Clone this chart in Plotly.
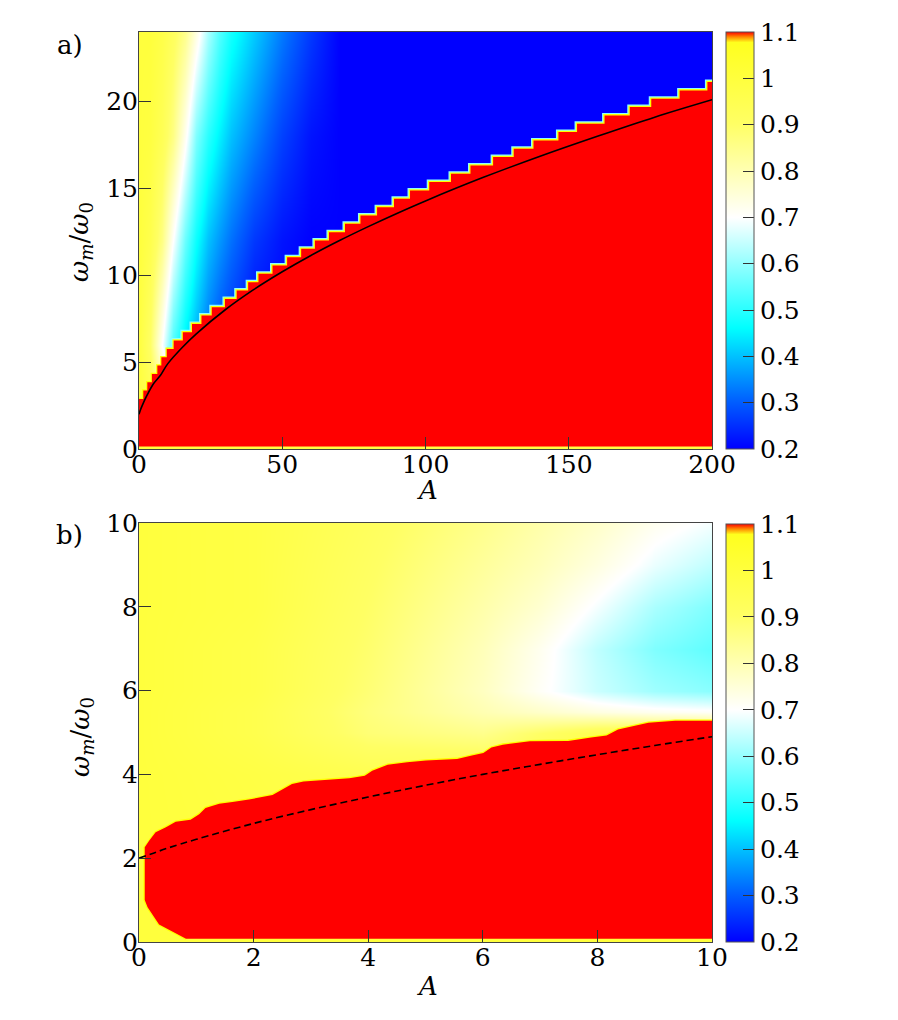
"""Two-panel stability map: omega_m/omega_0 versus A, with threshold curves."""

import plotly.graph_objects as go

# ---- panel a) background field (coarse samples read off the picture) ----
a_A = [0, 4, 8, 12, 16, 20, 24, 28, 32, 40, 50, 60, 70, 200]
a_w = [0, 6, 12, 18, 24]
a_z = [
    [1.0, 1.0, 1.0, 1.0, 1.0, 1.0, 1.0, 1.0, 1.0, 1.0, 1.0, 1.0, 1.0, 1.0],
    [0.99, 0.9, 0.70, 0.53, 0.44, 0.38, 0.32, 0.28, 0.25, 0.2, 0.2, 0.2, 0.2, 0.2],
    [1.0, 0.96, 0.86, 0.70, 0.56, 0.47, 0.40, 0.36, 0.32, 0.26, 0.22, 0.2, 0.2, 0.2],
    [1.0, 0.99, 0.94, 0.86, 0.72, 0.58, 0.50, 0.45, 0.40, 0.34, 0.27, 0.22, 0.2, 0.2],
    [1.0, 1.0, 0.97, 0.92, 0.85, 0.74, 0.62, 0.54, 0.48, 0.41, 0.33, 0.26, 0.2, 0.2],
]

# red (unstable) region top edge, staircase
a_step_A = [0, 1.5, 2.9, 4.5, 6.4, 7.8, 9.7, 12.1, 15.3, 18.5, 21.8, 25.4, 30.0,
            34.1, 38.1, 41.7, 46.6, 51.7, 56.6, 61.4, 66.3, 71.9, 77.3, 83.1,
            89.0, 94.6, 101.3, 108.9, 115.7, 123.6, 130.8, 137.7, 146.4, 152.9,
            162.5, 171.3, 178.8, 188.7, 198.4, 200]
a_step_w = [2.88, 3.36, 3.84, 4.32, 4.80, 5.28, 5.76, 6.24, 6.72, 7.20, 7.68,
            8.16, 8.64, 9.12, 9.60, 10.08, 10.56, 11.04, 11.52, 12.00, 12.48,
            12.96, 13.44, 13.92, 14.40, 14.88, 15.36, 15.84, 16.32, 16.80, 17.28,
            17.76, 18.24, 18.72, 19.20, 19.68, 20.16, 20.64, 21.12, 21.12]
a_floor = 0.15

# threshold curve a)
a_line_A = [0, 0.5, 1, 2, 3, 5, 7.5, 10, 15, 20, 30, 40, 50, 60, 70, 80, 90,
            100, 120, 140, 160, 180, 200]
a_line_w = [2.0, 2.24, 2.45, 2.83, 3.16, 3.74, 4.24, 4.90, 5.83, 6.63, 8.0, 9.17,
            10.2, 11.14, 12.0, 12.8, 13.56, 14.28, 15.62, 16.85, 18.0, 19.1, 20.1]

# ---- panel b) background field ----
b_A = [0, 2, 4, 6, 7, 8, 9, 10]
b_w = [0, 4, 5, 5.5, 6, 7, 8, 9, 10]
b_z = [
    [1.0, 1.0, 1.0, 1.0, 1.0, 1.0, 1.0, 1.0],
    [1.0, 0.98, 0.95, 0.96, 0.97, 0.98, 0.98, 0.98],
    [1.0, 0.96, 0.88, 0.85, 0.9, 0.95, 0.97, 0.97],
    [1.0, 0.96, 0.87, 0.8, 0.77, 0.74, 0.72, 0.71],
    [1.0, 0.97, 0.88, 0.78, 0.71, 0.65, 0.61, 0.59],
    [1.0, 0.97, 0.89, 0.79, 0.72, 0.64, 0.58, 0.55],
    [1.0, 0.98, 0.9, 0.81, 0.76, 0.69, 0.62, 0.58],
    [1.0, 0.98, 0.91, 0.83, 0.79, 0.74, 0.68, 0.64],
    [1.0, 0.98, 0.92, 0.85, 0.81, 0.77, 0.72, 0.69],
]

# red region outline b) (left + top edge)
b_edge_A = [0.82, 0.35, 0.15, 0.1, 0.1, 0.18, 0.29, 0.47, 0.64, 0.9, 1.05, 1.16,
            1.4, 1.63, 1.92, 2.33, 2.53, 2.67, 2.87, 3.2, 3.67, 3.94, 4.07, 4.34,
            4.68, 5.01, 5.55, 5.81, 6.01, 6.15, 6.35, 6.82, 7.49, 7.89, 8.16,
            8.36, 8.63, 8.89, 9.36, 10]
b_edge_w = [0.08, 0.42, 0.83, 1.0, 2.26, 2.42, 2.62, 2.74, 2.87, 2.92, 3.05, 3.2,
            3.3, 3.34, 3.4, 3.51, 3.67, 3.77, 3.83, 3.87, 3.91, 3.97, 4.09, 4.23,
            4.29, 4.33, 4.37, 4.45, 4.51, 4.64, 4.71, 4.79, 4.8, 4.88, 4.93,
            5.07, 5.16, 5.23, 5.28, 5.28]
b_floor = 0.08

# threshold curve b)
b_line_A = [0, 0.25, 0.5, 1, 2, 3, 4, 5, 6, 7, 8, 9, 10]
b_line_w = [2.0, 2.12, 2.24, 2.45, 2.83, 3.16, 3.46, 3.74, 4.0, 4.24, 4.47, 4.69, 4.90]

cb_vals = [0.2, 0.3, 0.4, 0.5, 0.6, 0.7, 0.8, 0.9, 1.0, 1.1]
cb_text = ["0.2", "0.3", "0.4", "0.5", "0.6", "0.7", "0.8", "0.9", "1", "1.1"]

RED = "rgb(255,0,0)"
FONT = "DejaVu Serif"
colorscale = [
    [0.0, "rgb(0,0,255)"],
    [0.12, "rgb(0,100,255)"],
    [0.29, "rgb(0,255,255)"],
    [0.555, "rgb(255,255,255)"],
    [0.78, "rgb(255,255,100)"],
    [0.975, "rgb(255,255,30)"],
    [0.988, "rgb(255,140,0)"],
    [1.0, RED],
]

# figure size; the page adds an 8px body margin, so pixel positions below
# are in figure coordinates (screen - 8)
W, H = 898, 1020
FS = 25
X0, X1 = 131, 704          # plot left/right
A_TOP, A_BOT = 24, 441     # panel a top/bottom
B_TOP, B_BOT = 515, 934    # panel b top/bottom
CB_X = 718


def colorbar(top, bottom):
    return dict(
        x=CB_X / W, xanchor="left", y=1 - (top + bottom) / 2 / H, yanchor="middle",
        lenmode="pixels", len=bottom - top, thickness=28, thicknessmode="pixels",
        outlinewidth=1, outlinecolor="#555", xpad=0, ypad=0,
        ticks="inside", ticklen=11, tickcolor="#333",
        tickvals=cb_vals, ticktext=cb_text,
        tickfont=dict(family=FONT, size=FS, color="black"),
    )


fig = go.Figure()

panels = [
    dict(xa="x", ya="y", A=a_A, w=a_w, z=a_z, cb=(A_TOP, A_BOT),
         poly_x=[200, 0] + a_step_A, poly_y=[a_floor, a_floor] + a_step_w,
         shape="hv", edge_x=a_step_A, edge_y=a_step_w,
         line_x=a_line_A, line_y=a_line_w, dash="solid"),
    dict(xa="x2", ya="y2", A=b_A, w=b_w, z=b_z, cb=(B_TOP + 1, B_BOT),
         poly_x=[10] + b_edge_A, poly_y=[b_floor] + b_edge_w,
         shape="linear", edge_x=b_edge_A, edge_y=b_edge_w,
         line_x=b_line_A, line_y=b_line_w, dash="7px,4px"),
]

for i, p in enumerate(panels):
    fig.add_trace(go.Heatmap(
        x=p["A"], y=p["w"], z=p["z"], zsmooth="best", colorscale=colorscale,
        zmin=0.2, zmax=1.1, colorbar=colorbar(*p["cb"]),
        xaxis=p["xa"], yaxis=p["ya"], hoverinfo="skip",
    ))
    if i == 0:
        # thin cyan fringe where the red edge meets the blue area
        fx = [x for x in p["edge_x"] if x >= 9.7]
        fy = [y for x, y in zip(p["edge_x"], p["edge_y"]) if x >= 9.7]
        fig.add_trace(go.Scatter(
            x=fx, y=fy, mode="lines", line=dict(color="rgb(140,255,255)", width=5, shape="hv"),
            xaxis=p["xa"], yaxis=p["ya"], showlegend=False, hoverinfo="skip",
        ))
    fig.add_trace(go.Scatter(
        x=p["edge_x"], y=p["edge_y"], mode="lines",
        line=dict(color="rgb(255,255,0)", width=2.6, shape=p["shape"]),
        xaxis=p["xa"], yaxis=p["ya"], showlegend=False, hoverinfo="skip",
    ))
    fig.add_trace(go.Scatter(
        x=p["poly_x"], y=p["poly_y"], mode="lines", fill="toself", fillcolor=RED,
        line=dict(width=0, color=RED, shape=p["shape"]),
        xaxis=p["xa"], yaxis=p["ya"], showlegend=False, hoverinfo="skip",
    ))
    fig.add_trace(go.Scatter(
        x=p["line_x"], y=p["line_y"], mode="lines",
        line=dict(color="black", width=1.6, shape="spline", dash=p["dash"]),
        xaxis=p["xa"], yaxis=p["ya"], showlegend=False, hoverinfo="skip",
    ))

tick_font = dict(family=FONT, size=FS, color="black")
axis_common = dict(
    showline=True, mirror=True, linecolor="#444", linewidth=1,
    ticks="inside", ticklen=12, tickcolor="#333", showgrid=False,
    zeroline=False, tickfont=tick_font, automargin=False,
)
xdom = [X0 / W, X1 / W]
title_font = dict(family=FONT, size=26, color="black")
ytitle = "<i>ω<sub>m</sub></i>/<i>ω</i><sub>0</sub>"


def label(text, x, y, angle=0):
    return dict(text=text, x=x / W, y=1 - y / H, xref="paper", yref="paper",
                xanchor="center", yanchor="middle", textangle=angle,
                showarrow=False, font=title_font)


fig.update_layout(
    width=W, height=H,
    margin=dict(l=0, r=0, t=0, b=0, autoexpand=False),
    paper_bgcolor="white", plot_bgcolor="white",
    showlegend=False,
    xaxis=dict(axis_common, domain=xdom, range=[0, 200], anchor="y",
               tickvals=[0, 50, 100, 150, 200], ticklabelstandoff=-7),
    yaxis=dict(axis_common, domain=[1 - A_BOT / H, 1 - A_TOP / H], range=[0, 24],
               anchor="x", tickvals=[0, 5, 10, 15, 20], ticklabelstandoff=-5),
    xaxis2=dict(axis_common, domain=xdom, range=[0, 10], anchor="y2",
                tickvals=[0, 2, 4, 6, 8, 10], ticklabelstandoff=-7),
    yaxis2=dict(axis_common, domain=[1 - B_BOT / H, 1 - B_TOP / H], range=[0, 10],
                anchor="x2", tickvals=[0, 2, 4, 6, 8, 10], ticklabelstandoff=-5),
    annotations=[
        label("a)", 62, 37),
        label("b)", 62, 527),
        label("<i>A</i>", 419, 482),
        label("<i>A</i>", 419, 978),
        label(ytitle, 73, 234, -90),
        label(ytitle, 73, 729, -90),
    ],
)

fig.write_html("out.html")
